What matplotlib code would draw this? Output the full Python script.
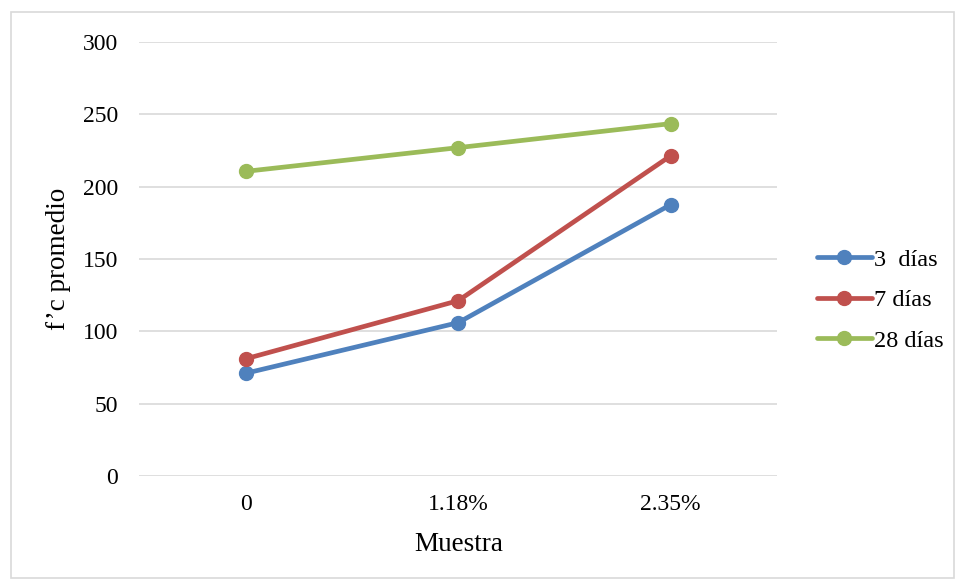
import matplotlib
matplotlib.use("Agg")
import matplotlib.pyplot as plt
from matplotlib.patches import Rectangle

# Compressive strength (f'c) by sample dosage and curing age
categories = ["0", "1.18%", "2.35%"]
series_names = ["3  días", "7 días", "28 días"]
dias_3 = [71, 106, 187.6]
dias_7 = [81, 121.2, 221.4]
dias_28 = [210.6, 227, 243.6]
y_ticks = [0, 50, 100, 150, 200, 250, 300]

colors = ["#4F81BD", "#C0504D", "#9BBB59"]

plt.rcParams["font.family"] = ["Liberation Serif", "DejaVu Serif"]

fig = plt.figure(figsize=(9.64, 5.84), dpi=100)
fig.patches.append(Rectangle((0.011, 0.01), 0.979, 0.97, transform=fig.transFigure,
                             fill=False, edgecolor="#D9D9D9", linewidth=1.2))

ax = fig.add_axes([0.1447, 0.185, 0.6613, 0.743])
x = list(range(len(categories)))
for name, vals, c in zip(series_names, [dias_3, dias_7, dias_28], colors):
    ax.plot(x, vals, color=c, linewidth=3.4, marker="o", markersize=10,
            solid_capstyle="round", label=name, zorder=3)

ax.set_xlim(-0.5, len(categories) - 0.5)
ax.set_ylim(0, 300)
ax.set_yticks(y_ticks)
ax.set_xticks(x)
ax.set_xticklabels(categories)
ax.yaxis.grid(True, color="#D9D9D9", linewidth=1.2)
ax.set_axisbelow(True)
for s in ax.spines.values():
    s.set_visible(False)
ax.tick_params(axis="both", length=0, labelsize=17, colors="black")
ax.tick_params(axis="y", pad=15.5)
ax.tick_params(axis="x", pad=13)

ax.set_xlabel("Muestra", fontsize=19.5, labelpad=12.5)
ax.set_ylabel("f’c promedio", fontsize=19.5, labelpad=8)

ax.legend(loc="center left", bbox_to_anchor=(1.0627, 0.405), frameon=False,
          borderaxespad=0, borderpad=0,
          fontsize=17.5, handlelength=2.26, handletextpad=0.08, labelspacing=0.77)

fig.savefig("out.png", dpi=100, facecolor="white")
